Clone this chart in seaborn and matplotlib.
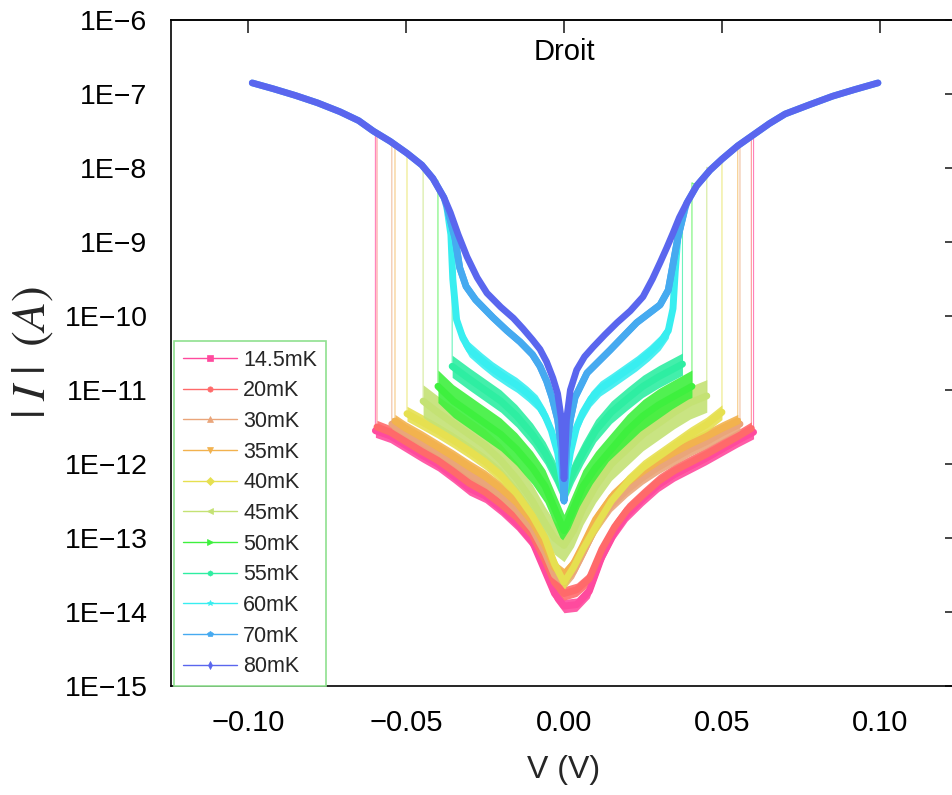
import matplotlib
matplotlib.use("Agg")
import numpy as np
import pandas as pd
import matplotlib.pyplot as plt
import seaborn as sns
from matplotlib.lines import Line2D
from matplotlib.ticker import LogLocator, FixedLocator, FuncFormatter, NullLocator, NullFormatter

# ---------------- data (V in volts, L = log10 |I| in A) ----------------
TEMPS = ['14.5mK', '20mK', '30mK', '35mK', '40mK', '45mK', '50mK', '55mK', '60mK', '70mK', '80mK']
COLORS = ['#ff4a9e', '#ff6a6a', '#eaa57a', '#f2b24e', '#e6e050', '#c4e274',
          '#3ef03e', '#2eeea2', '#38eef0', '#46aaf0', '#5a66ee']
MARKERS = ['s', 'o', '^', 'v', 'D', '<', '>', 'h', '*', 'p', 'd']

# common high-current branch (80 mK curve)
ENV_V = [-0.0987, -0.092, -0.085, -0.078, -0.0709, -0.065, -0.0604, -0.055, -0.0497, -0.045,
         -0.0415, -0.038, -0.036, -0.0335, -0.0307, -0.0275, -0.0244, -0.020, -0.016, -0.013,
         -0.010, -0.0076, -0.0055, -0.0035, -0.002, -0.0008, 0.0, 0.0008, 0.002, 0.004,
         0.0065, 0.0092, 0.013, 0.0168, 0.021, 0.025, 0.028, 0.0304, 0.0325, 0.0345,
         0.0365, 0.0389, 0.042, 0.0462, 0.050, 0.055, 0.060, 0.065, 0.070, 0.078,
         0.085, 0.092, 0.0994]
ENV_L = [-6.85, -6.93, -7.02, -7.12, -7.24, -7.36, -7.50, -7.64, -7.80, -7.96,
         -8.14, -8.40, -8.60, -8.90, -9.20, -9.48, -9.69, -9.88, -10.03, -10.17,
         -10.32, -10.45, -10.62, -10.84, -11.05, -11.4, -12.2, -11.4, -11.0, -10.73,
         -10.55, -10.42, -10.25, -10.09, -9.93, -9.74, -9.5, -9.28, -9.08, -8.88,
         -8.67, -8.47, -8.24, -8.03, -7.88, -7.70, -7.55, -7.40, -7.27, -7.14,
         -7.03, -6.94, -6.85]

# low-current branches
LOW_V_145 = [-0.0597, -0.055, -0.050, -0.045, -0.040, -0.035, -0.030, -0.025, -0.020, -0.015,
             -0.010, -0.006, -0.003, 0.000, 0.004, 0.008, 0.012, 0.016, 0.020, 0.025,
             0.030, 0.035, 0.040, 0.045, 0.050, 0.055, 0.0600]
LOW_L_145 = [-11.55, -11.62, -11.75, -11.88, -12.0, -12.16, -12.33, -12.43, -12.6, -12.8,
             -13.05, -13.45, -13.75, -13.92, -13.9, -13.72, -13.25, -12.92, -12.68, -12.47,
             -12.28, -12.14, -12.03, -11.92, -11.80, -11.68, -11.57]
LOW_V_20 = [-0.0592, -0.055, -0.050, -0.045, -0.040, -0.035, -0.030, -0.025, -0.020, -0.015,
            -0.010, -0.006, -0.003, 0.000, 0.004, 0.008, 0.012, 0.016, 0.020, 0.025,
            0.030, 0.035, 0.040, 0.045, 0.050, 0.055, 0.0593]
LOW_L_20 = [-11.50, -11.57, -11.70, -11.83, -11.95, -12.10, -12.26, -12.38, -12.54, -12.72,
            -12.96, -13.3, -13.6, -13.75, -13.7, -13.55, -13.15, -12.85, -12.62, -12.42,
            -12.23, -12.09, -11.98, -11.87, -11.75, -11.63, -11.52]
LOW_V_30 = [-0.0545, -0.050, -0.045, -0.040, -0.035, -0.030, -0.025, -0.020, -0.015, -0.010,
            -0.006, -0.003, 0.000, 0.003, 0.006, 0.010, 0.015, 0.020, 0.025, 0.030,
            0.035, 0.040, 0.045, 0.050, 0.0557]
LOW_L_30 = [-11.46, -11.58, -11.70, -11.83, -11.97, -12.12, -12.25, -12.42, -12.62, -12.88,
            -13.2, -13.5, -13.6, -13.45, -13.2, -12.85, -12.55, -12.35, -12.18, -12.04,
            -11.92, -11.80, -11.70, -11.58, -11.46]
LOW_V_35 = [-0.0535, -0.050, -0.045, -0.040, -0.035, -0.030, -0.025, -0.020, -0.015, -0.010,
            -0.006, -0.003, 0.000, 0.003, 0.006, 0.010, 0.015, 0.020, 0.025, 0.030,
            0.035, 0.040, 0.045, 0.050, 0.0550]
LOW_L_35 = [-11.42, -11.52, -11.64, -11.77, -11.90, -12.04, -12.17, -12.33, -12.52, -12.78,
            -13.1, -13.4, -13.5, -13.35, -13.1, -12.75, -12.45, -12.25, -12.10, -11.96,
            -11.84, -11.73, -11.63, -11.52, -11.42]
LOW_V_40 = [-0.0497, -0.045, -0.040, -0.035, -0.030, -0.025, -0.020, -0.015, -0.010, -0.006,
            -0.003, 0.000, 0.003, 0.006, 0.010, 0.015, 0.020, 0.025, 0.030, 0.035,
            0.040, 0.045, 0.0500]
LOW_L_40 = [-11.32, -11.43, -11.55, -11.68, -11.82, -11.97, -12.15, -12.4, -12.7, -13.0,
            -13.35, -13.6, -13.4, -13.15, -12.85, -12.5, -12.25, -12.05, -11.9, -11.75,
            -11.6, -11.47, -11.3]
LOW_V_45 = [-0.0446, -0.040, -0.035, -0.030, -0.025, -0.020, -0.015, -0.010, -0.006, -0.003,
            0.000, 0.003, 0.006, 0.010, 0.015, 0.020, 0.025, 0.030, 0.035, 0.040, 0.0452]
LOW_L_45 = [-11.15, -11.3, -11.45, -11.6, -11.75, -11.95, -12.2, -12.5, -12.8, -13.0,
            -13.1, -12.9, -12.6, -12.3, -12.0, -11.8, -11.6, -11.45, -11.3, -11.17, -11.08]
LOW_V_50 = [-0.0399, -0.035, -0.030, -0.025, -0.020, -0.015, -0.010, -0.006, -0.003, 0.000,
            0.003, 0.006, 0.010, 0.015, 0.020, 0.025, 0.030, 0.035, 0.0405]
LOW_L_50 = [-10.95, -11.15, -11.3, -11.45, -11.6, -11.8, -12.05, -12.3, -12.6, -12.9,
            -12.6, -12.3, -12.05, -11.8, -11.55, -11.35, -11.2, -11.08, -10.95]
LOW_V_55 = [-0.0354, -0.030, -0.025, -0.020, -0.015, -0.010, -0.006, -0.003, 0.000, 0.003,
            0.006, 0.010, 0.015, 0.020, 0.025, 0.030, 0.0375]
LOW_L_55 = [-10.68, -10.85, -11.0, -11.15, -11.35, -11.6, -11.85, -12.1, -12.4, -12.1,
            -11.85, -11.55, -11.3, -11.12, -10.95, -10.82, -10.65]
LOW_V_60 = [-0.0370, -0.0358, -0.0352, -0.034, -0.032, -0.030, -0.026, -0.0225, -0.018, -0.015,
            -0.0115, -0.0085, -0.006, -0.004, -0.002, 0.000, 0.002, 0.004, 0.006, 0.0085,
            0.0115, 0.015, 0.019, 0.023, 0.027, 0.0304, 0.033, 0.0345, 0.0352, 0.0360, 0.0375]
LOW_L_60 = [-8.55, -8.9, -9.5, -10.05, -10.3, -10.45, -10.6, -10.72, -10.85, -10.93,
            -11.05, -11.17, -11.35, -11.55, -11.85, -12.4, -11.85, -11.5, -11.3, -11.12,
            -10.98, -10.88, -10.76, -10.64, -10.5, -10.36, -10.2, -9.9, -9.4, -8.95, -8.65]
LOW_V_70 = [-0.0365, -0.0345, -0.033, -0.031, -0.028, -0.0225, -0.018, -0.0139, -0.010, -0.0076,
            -0.0055, -0.0038, -0.002, -0.0008, 0.000, 0.0008, 0.002, 0.0035, 0.0073, 0.0146,
            0.023, 0.0304, 0.033, 0.0345, 0.036, 0.038]
LOW_L_70 = [-8.62, -8.95, -9.35, -9.6, -9.78, -10.02, -10.2, -10.35, -10.52, -10.68,
            -10.88, -11.1, -11.4, -11.8, -12.5, -11.8, -11.4, -11.1, -10.77, -10.46,
            -10.09, -9.85, -9.65, -9.3, -8.95, -8.6]
LOW_V_80 = []
LOW_L_80 = []

LOW_V = [LOW_V_145, LOW_V_20, LOW_V_30, LOW_V_35, LOW_V_40, LOW_V_45, LOW_V_50, LOW_V_55,
         LOW_V_60, LOW_V_70, LOW_V_80]
LOW_L = [LOW_L_145, LOW_L_20, LOW_L_30, LOW_L_35, LOW_L_40, LOW_L_45, LOW_L_50, LOW_L_55,
         LOW_L_60, LOW_L_70, LOW_L_80]
# top of the switching jumps (log10 I on the high branch), left / right
TOP_LEFT = [-7.52, -7.53, -7.67, -7.70, -7.80, -7.98, -8.17, -8.65, None, None, None]
TOP_RIGHT = [-7.55, -7.56, -7.70, -7.70, -7.88, -7.99, -8.20, -8.58, None, None, None]
# half thickness of the noisy low-current bands (decades)
BAND_HW = [0.09, 0.09, 0.09, 0.09, 0.10, 0.22, 0.22, 0.15, 0.10, 0.0, 0.0]

# ---------------- style ----------------
sns.set_theme(style="white")
plt.rcParams['font.family'] = ['Liberation Sans', 'DejaVu Sans']
plt.rcParams['mathtext.fontset'] = 'stix'
plt.rcParams['axes.unicode_minus'] = True

W, H = 953, 795
fig = plt.figure(figsize=(W / 100, H / 100), dpi=100)
ax = fig.add_axes([171 / W, 1 - 686 / H, 786 / W, 666 / H])
ax.set_yscale('log')

rows = []
for t, lv, ll, tl, tr in zip(TEMPS, LOW_V, LOW_L, TOP_LEFT, TOP_RIGHT):
    if lv:
        v0, v1 = lv[0], lv[-1]
    else:
        v0, v1 = 1.0, -1.0
    pts = [(v, l) for v, l in zip(ENV_V, ENV_L) if v < v0 - 1e-9]
    if lv:
        if tl is not None:
            pts.append((v0, tl))
        pts += list(zip(lv, ll))
        if tr is not None:
            pts.append((v1, tr))
        pts += [(v, l) for v, l in zip(ENV_V, ENV_L) if v > v1 + 1e-9]
    for i, (v, l) in enumerate(pts):
        rows.append({'T': t, 'V': v, 'I': 10.0 ** l, 'order': i})
df = pd.DataFrame(rows)

for k, t in enumerate(TEMPS):
    c = COLORS[k]
    sub = df[df['T'] == t]
    # thin connecting line (includes the switching jumps)
    sns.lineplot(data=sub, x='V', y='I', sort=False, estimator=None, color=c,
                 lw=0.8, alpha=0.7, ax=ax, legend=False)
    if LOW_V[k]:
        lv = np.array(LOW_V[k])
        ll = np.array(LOW_L[k])
        hw = BAND_HW[k]
        if hw > 0:
            ax.fill_between(lv, 10 ** (ll - hw), 10 ** (ll + hw), color=c, alpha=0.9, lw=0)
        low = pd.DataFrame({'V': lv, 'I': 10 ** ll})
        sns.lineplot(data=low, x='V', y='I', sort=False, estimator=None, color=c,
                     lw=5.0, ax=ax, legend=False, solid_capstyle='round')
    if t in ('70mK', '80mK'):
        sns.lineplot(data=sub, x='V', y='I', sort=False, estimator=None, color=c,
                     lw=4.8, ax=ax, legend=False, solid_capstyle='round')

# ---------------- axes ----------------
ax.set_xlim(-0.1244, 0.1244)
ax.set_ylim(1e-15, 1e-6)
ax.set_xticks([-0.10, -0.05, 0.0, 0.05, 0.10])
ax.xaxis.set_minor_locator(FixedLocator([-0.075, -0.025, 0.025, 0.075]))
ax.xaxis.set_major_formatter(FuncFormatter(
    lambda v, p: ('%.2f' % v).replace('-', '\u2212') if abs(v) > 1e-9 else '0.00'))
ax.yaxis.set_major_locator(LogLocator(base=10, numticks=20))
ax.yaxis.set_minor_locator(LogLocator(base=10, subs=np.arange(2, 10), numticks=20))
ax.yaxis.set_minor_formatter(NullFormatter())
ax.yaxis.set_major_formatter(FuncFormatter(
    lambda v, p: '1E\u2212%d' % round(-np.log10(v))))

for s in ['left', 'bottom', 'top', 'right']:
    ax.spines[s].set_visible(True)
    ax.spines[s].set_color('black')
    ax.spines[s].set_linewidth(1.2)

ax.tick_params(axis='both', which='both', direction='out', colors='black')
ax.tick_params(axis='y', which='major', length=10, width=1.2, labelsize=20.5, pad=7)
ax.tick_params(axis='y', which='minor', length=5, width=1.0)
ax.tick_params(axis='x', which='major', length=8.5, width=1.2, labelsize=21, pad=8)
ax.tick_params(axis='x', which='minor', length=5, width=1.0)

secx = ax.secondary_xaxis('top')
secx.set_xticks([-0.10, -0.05, 0.0, 0.05, 0.10])
secx.tick_params(direction='in', length=9, width=1.2, labeltop=False)
secy = ax.secondary_yaxis('right')
secy.yaxis.set_major_locator(LogLocator(base=10, numticks=20))
secy.yaxis.set_minor_locator(NullLocator())
secy.tick_params(direction='in', length=9, width=1.2, labelright=False)

ax.set_xlabel('V (V)', fontsize=23)
ax.xaxis.set_label_coords(0.5, -0.103)
ax.set_ylabel(r'$|\;I\;|\;\;(A)$', fontsize=34)
ax.yaxis.set_label_coords(-0.148, 0.5)

ax.text(0.5, 0.952, 'Droit', transform=ax.transAxes, ha='center', va='center',
        fontsize=21, color='black')

handles = [Line2D([], [], color=c, lw=1.0, marker=m, markersize=4.5 if m == 's' else 3.8,
                  markeredgewidth=0.5)
           for c, m in zip(COLORS, MARKERS)]
leg = ax.legend(handles, TEMPS, loc='lower left', bbox_to_anchor=(0.004, 0.0),
                borderaxespad=0, frameon=True, fancybox=False, fontsize=15.5,
                handlelength=2.5, handletextpad=0.3, labelspacing=0.45,
                borderpad=0.4, edgecolor='#8fe08f', framealpha=1)
leg.get_frame().set_linewidth(1.2)

fig.savefig('out.png', dpi=100)
